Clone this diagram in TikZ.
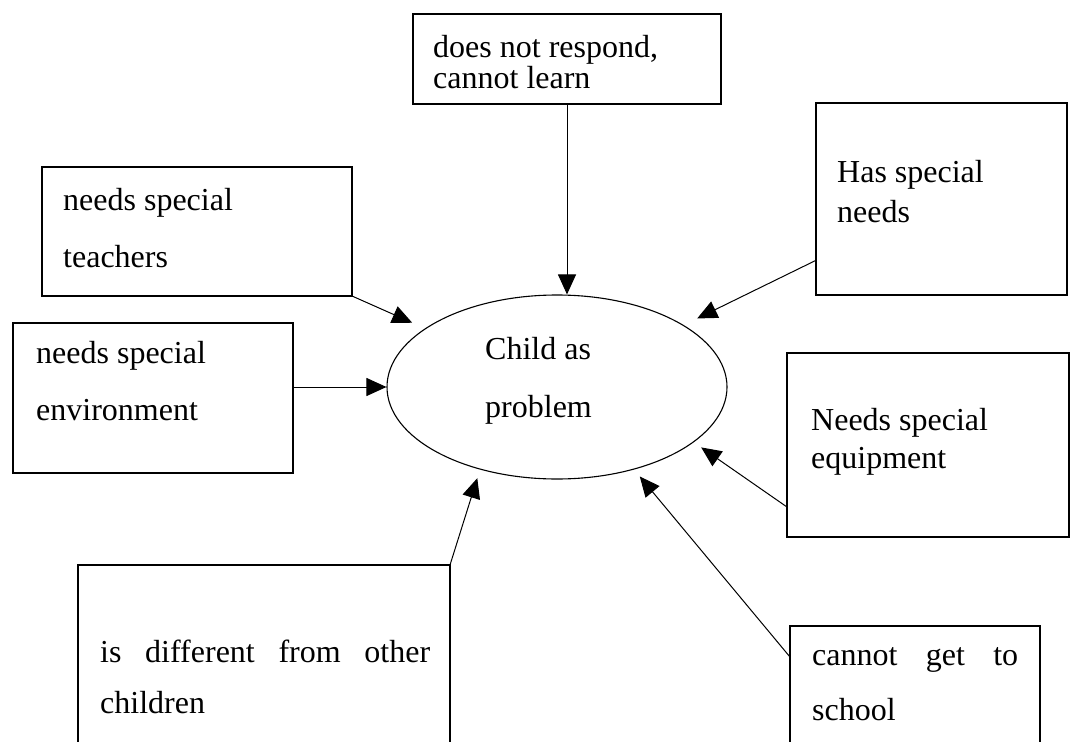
\documentclass[tikz,border=0pt]{standalone}
\usepackage{fontspec}
\setmainfont{Liberation Serif}
\usetikzlibrary{arrows.meta,shapes.geometric,calc}
\newcommand{\boxtxt}[3]{\vtop{\baselineskip=#1pt\lineskiplimit=-\maxdimen\hbox{#2}\hbox{#3}}}
\tikzset{
  boxst/.style={draw, line width=1.2pt, inner sep=0pt, outer sep=0pt, anchor=north west},
  txt/.style={anchor=base west, inner sep=0pt, font=\fontsize{32}{38}\selectfont},
  arr/.style={-{Triangle[length=20pt,width=18pt]}, line width=1pt},
}
\begin{document}
\begin{tikzpicture}[x=1pt,y=-1pt]
\useasboundingbox (0,0) rectangle (1070,741);
\clip (0,0) rectangle (1070,741);
% boxes
\node[boxst, minimum width=308pt, minimum height=90pt] (dnr) at (413,14) {};
\node[boxst, minimum width=310pt, minimum height=129pt] (teach) at (42,167) {};
\node[boxst, minimum width=280pt, minimum height=150pt] (env) at (13,323) {};
\node[boxst, minimum width=251pt, minimum height=192pt] (has) at (816,103) {};
\node[boxst, minimum width=282pt, minimum height=184pt] (equip) at (787,353) {};
\node[boxst, minimum width=372pt, minimum height=200pt] (diff) at (78,565) {};
\node[boxst, minimum width=250pt, minimum height=140pt] (school) at (790,626) {};
\node[draw, ellipse, line width=1.1pt, minimum width=340pt, minimum height=184pt, inner sep=0pt] (child) at (557,387) {};
% texts
\node[txt] (tdnr) at (433,58) {\boxtxt{31}{does not respond,}{cannot learn}};
\node[txt] (tteach) at (63,210) {\boxtxt{57}{needs special}{teachers}};
\node[txt] (tenv) at (36,363) {\boxtxt{57}{needs special}{environment}};
\node[txt] (thas) at (837,182) {\boxtxt{40}{Has special}{needs}};
\node[txt] (tequip) at (811,430) {\boxtxt{38}{Needs special}{equipment}};
\node[txt] (tdiff) at (100,662) {\boxtxt{51}{\makebox[330pt][s]{is different from other}}{children}};
\node[txt] (tschool) at (812,665) {\boxtxt{55}{\makebox[206pt][s]{cannot get to}}{school}};
\node[txt] (tchild) at (485,359) {\boxtxt{58}{Child as}{problem}};
% connectors
\coordinate (eqs) at ($(equip.north west)+(0,154)$);
\coordinate (scs) at ($(school.north west)+(0,31)$);
\draw[arr] (dnr.south) -- (dnr.south |- child.north);
\draw[arr, shorten >=14pt] (teach.south east) -- (child);
\draw[arr] (env.east |- child.west) -- (child.west);
\draw[arr, shorten >=15pt] (has) -- (child);
\draw[arr, shorten >=9pt] (eqs) -- (child.-22.5);
\draw[arr, shorten >=9pt] (diff.north east) -- (child.227.7);
\draw[arr, shorten >=9pt] (scs) -- (child.-47.7);
\end{tikzpicture}
\end{document}
